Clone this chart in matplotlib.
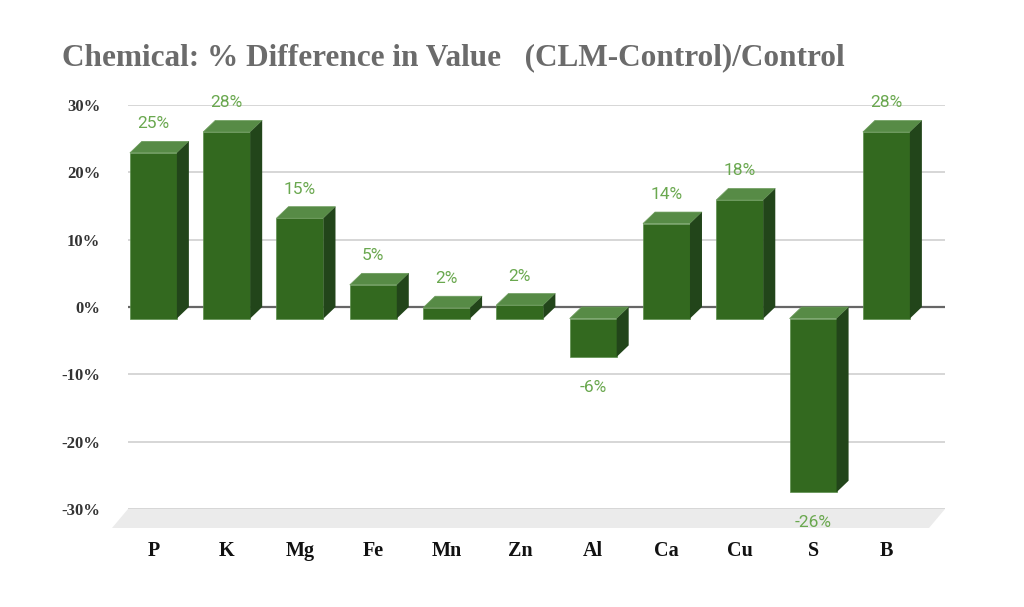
import numpy as np
import matplotlib
matplotlib.use("Agg")
import matplotlib.pyplot as plt
from matplotlib.patches import Polygon

# data
elements = ["P", "K", "Mg", "Fe", "Mn", "Zn", "Al", "Ca", "Cu", "S", "B"]
pct_diff = [24.6, 27.7, 14.9, 5.0, 1.6, 2.0, -5.7, 14.1, 17.6, -25.8, 27.7]
y_ticks = [-30, -20, -10, 0, 10, 20, 30]

front_col = "#33691f"
top_col = "#578b46"
side_col = "#22451a"
label_col = "#6aa84f"

W, H = 1024, 607
fig = plt.figure(figsize=(W / 100, H / 100), dpi=100)
ax = fig.add_axes([128 / W, (H - 509) / H, (945 - 128) / W, (509 - 105) / H])

xmin, xmax = -0.51, 10.636
ax.set_xlim(xmin, xmax)
ax.set_ylim(-30, 30)

# pixel -> data conversion for the fake 3d depth
px_x = (945 - 128) / (xmax - xmin)
px_y = (509 - 105) / 60.0
dx = 12 / px_x
dy = 11.5 / px_y
bw = 47 / px_x

for s in ax.spines.values():
    s.set_visible(False)

# floor
fdx, fdy = 16 / px_x, 19 / px_y
ax.add_patch(Polygon([(xmin, -30), (xmax, -30), (xmax - fdx, -30 - fdy), (xmin - fdx, -30 - fdy)],
                     closed=True, facecolor="#ebebeb", edgecolor="none", clip_on=False, zorder=1))

for t in y_ticks:
    if t == 0:
        ax.axhline(0, color="#666666", lw=1.6, zorder=2)
    else:
        ax.axhline(t, color="#d0d0d0", lw=1.2, zorder=2)

for i, v in enumerate(pct_diff):
    lo, hi = min(0, v), max(0, v)
    xl, xr = i - bw / 2, i + bw / 2
    # front face
    ax.add_patch(Polygon([(xl - dx, lo - dy), (xr - dx, lo - dy), (xr - dx, hi - dy), (xl - dx, hi - dy)],
                         closed=True, facecolor=front_col, edgecolor="#5d8f4c", lw=0.5, zorder=4))
    # top face
    ax.add_patch(Polygon([(xl - dx, hi - dy), (xr - dx, hi - dy), (xr, hi), (xl, hi)],
                         closed=True, facecolor=top_col, edgecolor="#6c9c5c", lw=0.5, zorder=4))
    # side face
    ax.add_patch(Polygon([(xr - dx, lo - dy), (xr, lo), (xr, hi), (xr - dx, hi - dy)],
                         closed=True, facecolor=side_col, edgecolor="none", zorder=4))
    txt = "%d%%" % round(v)
    if v >= 0:
        ax.annotate(txt, (i - dx, hi), xytext=(0, 10), textcoords="offset pixels",
                    ha="center", va="bottom", color=label_col, fontsize=12.5,
                    family="Roboto", zorder=5, annotation_clip=False)
    else:
        ax.annotate(txt, (i - dx, lo - dy), xytext=(0, -23), textcoords="offset pixels",
                    ha="center", va="top", color=label_col, fontsize=12.5,
                    family="Roboto", zorder=5, annotation_clip=False)

ax.set_yticks(y_ticks)
ax.set_yticklabels(["%d%%" % t for t in y_ticks], family="Liberation Serif",
                   fontweight="bold", fontsize=12, color="#333333")
ax.set_xticks(np.arange(len(elements)) - dx)
ax.set_xticklabels(elements, family="Liberation Serif", fontweight="bold",
                   fontsize=14.5, color="#111111")
ax.tick_params(axis="y", length=0, pad=20)
ax.tick_params(axis="x", length=0, pad=23)

fig.text(62 / W, 1 - 58 / H, "Chemical: % Difference in Value   (CLM-Control)/Control",
         family="Liberation Serif", fontweight="bold", fontsize=22.5, color="#6b6b6b",
         ha="left", va="center")

fig.savefig("out.png", dpi=100, facecolor="white")
